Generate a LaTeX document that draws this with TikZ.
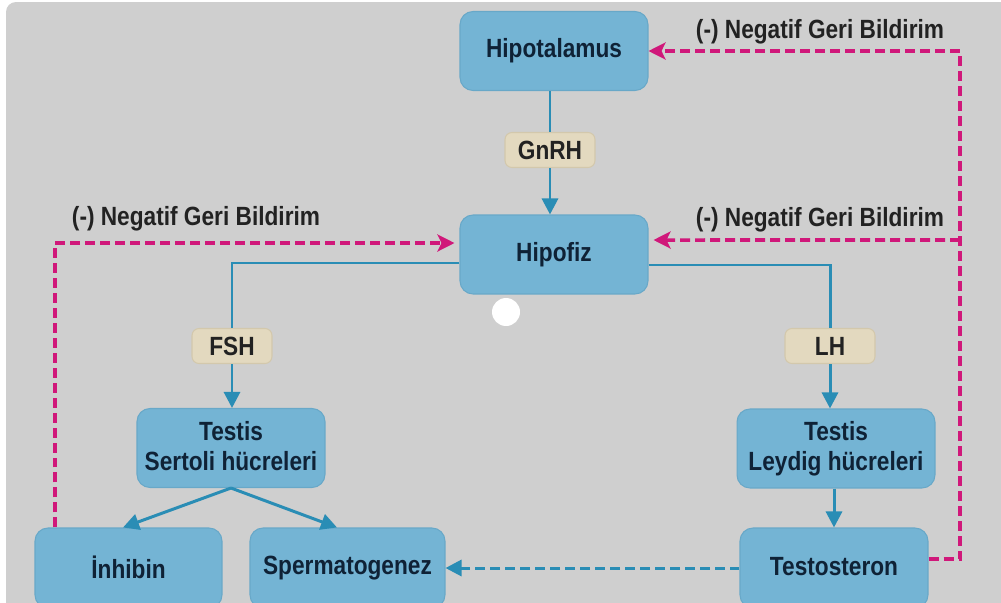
\documentclass[tikz,border=0pt]{standalone}
\usepackage{fontspec}
\setmainfont{Liberation Sans}[FakeStretch=0.86]
\usetikzlibrary{arrows.meta}
\definecolor{bg}{HTML}{CFCFCF}
\definecolor{boxfill}{HTML}{74B4D4}
\definecolor{boxedge}{HTML}{68A8C8}
\definecolor{boxtext}{HTML}{0F2236}
\definecolor{tagfill}{HTML}{E3D9BF}
\definecolor{tagedge}{HTML}{D3C8AC}
\definecolor{bline}{HTML}{2A8DB5}
\definecolor{pline}{HTML}{D0187A}
\definecolor{ltext}{HTML}{222222}
\tikzset{
  proc/.style={rectangle, rounded corners=0.26cm, fill=boxfill, draw=boxedge, line width=0.6pt,
    text=boxtext, font=\bfseries\fontsize{15}{17}\selectfont, align=center,
    minimum width=3.76cm, minimum height=1.58cm, inner sep=0pt},
  tag/.style={rectangle, rounded corners=0.14cm, fill=tagfill, draw=tagedge, line width=0.6pt,
    text=ltext, font=\bfseries\fontsize{15}{17}\selectfont, minimum height=0.7cm, inner sep=0pt},
  fb/.style={text=ltext, font=\bfseries\fontsize{15}{17}\selectfont, inner sep=0pt},
  bl/.style={draw=bline, line width=1.7pt},
  blarrow/.style={bl, -{Triangle[length=0.32cm, width=0.32cm]}},
  pk/.style={draw=pline, line width=2pt, dash pattern=on 0.2cm off 0.1cm,
    -{Stealth[length=0.34cm, width=0.34cm, inset=0.08cm]}},
}
\begin{document}
\begin{tikzpicture}[x=0.02cm, y=-0.02cm]
\useasboundingbox (0,0) rectangle (1001,602);
\clip (0,0) rectangle (1001,602);
\fill[white] (0,0) rectangle (1001,602);
\fill[bg, rounded corners=0.2cm] (6,2) rectangle (1010,612);

% nodes
\node[proc] (hyp) at (554,51) {Hipotalamus};
\node[proc] (pit) at (554,254.5) {Hipofiz};
\node[proc] (ser) at (231,448) {\raisebox{0.1cm}{\shortstack{Testis\\[3pt]Sertoli hücreleri}}};
\node[proc, minimum width=3.96cm] (ley) at (836,448.5) {\raisebox{0.1cm}{\shortstack{Testis\\[3pt]Leydig hücreleri}}};
\node[proc, minimum width=3.74cm, minimum height=1.6cm] (inh) at (128.5,568) {\raisebox{0.05cm}{İnhibin}};
\node[proc, minimum width=3.9cm, minimum height=1.6cm] (spe) at (347.5,568) {\raisebox{0.05cm}{Spermatogenez}};
\node[proc, minimum height=1.6cm] (tes) at (834,568) {\raisebox{0.05cm}{Testosteron}};

\node[tag, minimum width=1.8cm] (gnrh) at (550,150) {GnRH};
\node[tag, minimum width=1.6cm] (fsh) at (232,346) {FSH};
\node[tag, minimum width=1.8cm] (lh) at (830,346) {LH};

\node[fb] (fb1) at (820,32) {(-) Negatif Geri Bildirim};
\node[fb] (fb2) at (820,220) {(-) Negatif Geri Bildirim};
\node[fb] (fb3) at (196,219) {(-) Negatif Geri Bildirim};

% white dot
\fill[white] (506,312) circle (0.28cm);

% blue connectors
\draw[bl] (hyp.south -| gnrh.north) -- (gnrh.north);
\draw[blarrow] (gnrh.south) -- (pit.north -| gnrh.south);
\draw[bl] ([yshift=-0.17cm]pit.west) -| (fsh.north);
\draw[bl] ([yshift=-0.21cm]pit.east) -| (lh.north);
\draw[blarrow] (fsh.south) -- (ser.north -| fsh.south);
\draw[blarrow] (lh.south) -- (ley.north -| lh.south);
\draw[blarrow] (ser.south) -- ([xshift=-0.11cm]inh.north);
\draw[blarrow] (ser.south) -- ([xshift=-0.21cm]spe.north);
\draw[blarrow] (ley.south -| tes.north) -- (tes.north);
\draw[bl, dash pattern=on 0.2cm off 0.1cm, -{Triangle[length=0.32cm, width=0.32cm]}] (tes.west) -- (spe.east);

% pink feedback connectors
\coordinate (rtop) at (960,51);
\coordinate (rmid) at (960,240);
\coordinate (lmid) at (55,243);
\draw[pk] ([yshift=0.18cm]tes.east) -| (rtop) -- (hyp.east);
\draw[pk] (rmid) -- ([yshift=0.29cm, xshift=0.1cm]pit.east);
\draw[pk] ([xshift=-1.47cm]inh.north) |- ([yshift=0.23cm, xshift=-0.1cm]pit.west);
\end{tikzpicture}
\end{document}
